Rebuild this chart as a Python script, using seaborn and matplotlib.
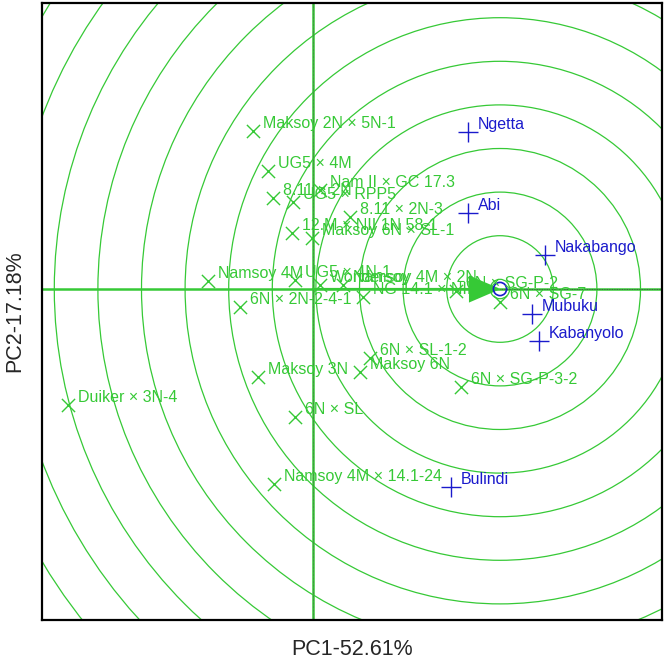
import numpy as np
import pandas as pd
import matplotlib
matplotlib.use("Agg")
import matplotlib.pyplot as plt
from matplotlib.patches import Circle
import seaborn as sns

# ---- data (biplot coordinates) ----
gen_names = ["Maksoy 2N × 5N-1", "UG5 × 4M", "8.11 × 2N", "UG5 × RPP5",
             "Nam II × GC 17.3", "8.11 × 2N-3", "12.M × NII 1N 58-1",
             "Maksoy 6N × SL-1", "Namsoy 4M", "6N × 2N-2-4-1", "UG5 × 4N-1",
             "Wondersoy", "Namsoy 4M × 2N", "NG 14.1 × NII", "6N × SG-P-2",
             "6N × SG-7", "Maksoy 3N", "Maksoy 6N", "6N × SL-1-2",
             "6N × SG-P-3-2", "Duiker × 3N-4", "6N × SL", "Namsoy 4M × 14.1-24"]
gen_pc1 = [-0.60, -0.45, -0.40, -0.20, 0.07, 0.37, -0.21, -0.01, -1.05, -0.73,
           -0.18, 0.07, 0.30, 0.50, 1.43, 1.87, -0.55, 0.47, 0.57, 1.48,
           -2.45, -0.18, -0.39]
gen_pc2 = [1.58, 1.18, 0.91, 0.87, 0.99, 0.72, 0.56, 0.51, 0.08, -0.18,
           0.09, 0.04, 0.04, -0.08, -0.02, -0.13, -0.88, -0.83, -0.69, -0.98,
           -1.16, -1.28, -1.95]

env_names = ["Ngetta", "Abi", "Nakabango", "Mubuku", "Kabanyolo", "Bulindi"]
env_pc1 = [1.55, 1.55, 2.32, 2.19, 2.26, 1.38]
env_pc2 = [1.57, 0.76, 0.34, -0.25, -0.52, -1.98]

ideal_pc1 = 1.87
ideal_pc2 = 0.0
ring_radii = [0.097 + 0.436 * k for k in range(14)]

xlabel = "PC1-52.61%"
ylabel = "PC2-17.18%"

# ---- style ----
sns.set_style("white")
plt.rcParams['font.family'] = ['Liberation Sans', 'DejaVu Sans']
GREEN = "#36c936"
BLUE = "#1a1acc"

gen_df = pd.DataFrame({"PC1": gen_pc1, "PC2": gen_pc2, "name": gen_names})
env_df = pd.DataFrame({"PC1": env_pc1, "PC2": env_pc2, "name": env_names})

fig = plt.figure(figsize=(6.64, 6.69), dpi=100)
ax = fig.add_axes([42 / 664, 49 / 669, 620 / 664, 617 / 669])
ax.set_xlim(-2.71, 3.49)
ax.set_ylim(-3.31, 2.86)
ax.set_aspect("equal", adjustable="box")

# concentric rings around ideal genotype
for r in ring_radii:
    ax.add_patch(Circle((ideal_pc1, ideal_pc2), r, fill=False, ec=GREEN, lw=0.9, zorder=1))

# axes lines
ax.axhline(0, color=GREEN, lw=1.8, zorder=2)
ax.axvline(0, color=GREEN, lw=1.8, zorder=2)
ax.axvline(0, color="#555555", lw=0.5, ls=(0, (1, 1)), zorder=2)
ax.plot([ideal_pc1, 3.49], [0, 0], color="#444444", lw=0.6, ls=(0, (1, 1)), zorder=2)

# arrow to ideal point
ax.arrow(0, 0, ideal_pc1 - 0.02, ideal_pc2, head_width=0.24, head_length=0.28,
         length_includes_head=True, color=GREEN, lw=1.5, zorder=3)

# markers
sns.scatterplot(data=gen_df, x="PC1", y="PC2", marker="x", s=90, color=GREEN,
                linewidth=1.0, ax=ax, zorder=4, legend=False)
sns.scatterplot(data=env_df, x="PC1", y="PC2", marker="+", s=200, color=BLUE,
                linewidth=1.0, ax=ax, zorder=4, legend=False)
ax.scatter([ideal_pc1], [ideal_pc2], s=90, facecolors="none", edgecolors=BLUE,
           linewidths=1.2, zorder=5)

for _, r in gen_df.iterrows():
    ax.annotate(r["name"], (r["PC1"], r["PC2"]), xytext=(7, 5.5),
                textcoords="offset points", ha="left", va="center",
                fontsize=11.5, color=GREEN, zorder=6)
for _, r in env_df.iterrows():
    ax.annotate(r["name"], (r["PC1"], r["PC2"]), xytext=(7, 5.5),
                textcoords="offset points", ha="left", va="center",
                fontsize=11.5, color=BLUE, zorder=6)

ax.set_xticks([])
ax.set_yticks([])
ax.set_xlabel(xlabel, fontsize=15.5, labelpad=14)
ax.set_ylabel(ylabel, fontsize=15.5, labelpad=12)
for s in ax.spines.values():
    s.set_color("black")
    s.set_linewidth(1.6)

fig.savefig("out.png", dpi=100)
